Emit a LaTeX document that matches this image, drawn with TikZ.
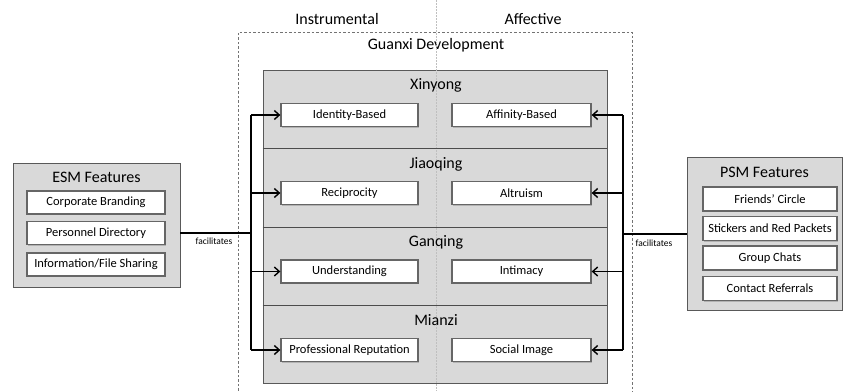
\documentclass[tikz,border=0pt]{standalone}
\usepackage{fontspec}
\setmainfont{Carlito}
\usetikzlibrary{arrows.meta,shadows}

\begin{document}
\begin{tikzpicture}[x=1pt, y=-1pt,
  featbox/.style={draw=black!65, fill=black!15, line width=0.8pt,
    drop shadow={shadow xshift=1pt, shadow yshift=-1pt, fill=black!35}},
  itembox/.style={draw=black!60, fill=white, line width=1.3pt, inner sep=0pt,
    minimum height=23pt, font=\fontsize{12.5}{14}\selectfont,
    drop shadow={shadow xshift=1pt, shadow yshift=-1pt, fill=black!45}},
  hdr/.style={font=\fontsize{16}{18}\selectfont},
  small/.style={font=\fontsize{9.5}{11}\selectfont},
  link/.style={line width=1.4pt, -{Straight Barb[length=5pt,width=9pt]}}]
  \useasboundingbox (0,0) rectangle (843,391);

  % columns
  \node[hdr] (instr) at (337,19) {Instrumental};
  \node[hdr] (affect) at (533,19) {Affective};
  \draw[black!55, line width=0.7pt, dash pattern=on 2.5pt off 2pt]
    (238,395) -- (238,32) -- (632,32) -- (632,395);
  \node[hdr] (dev) at (436,45) {Guanxi Development};

  % guanxi box
  \node[featbox, minimum width=344pt, minimum height=313pt] (gx) at (435,226.5) {};
  \draw[black!25, line width=0.6pt, dash pattern=on 1.5pt off 1.5pt] (436,0) -- (436,391);
  \draw[black!70, line width=0.9pt] (gx.west |- 0,148) -- (gx.east |- 0,148);
  \draw[black!70, line width=0.9pt] (gx.west |- 0,227) -- (gx.east |- 0,227);
  \draw[black!70, line width=0.9pt] (gx.west |- 0,305) -- (gx.east |- 0,305);
  \node[hdr] (xin) at (436,85) {Xinyong};
  \node[hdr] (jiao) at (436,164) {Jiaoqing};
  \node[hdr] (gan) at (436,242) {Ganqing};
  \node[hdr] (mian) at (436,320) {Mianzi};

  \node[itembox, minimum width=137pt] (idb) at (349.5,115) {Identity-Based};
  \node[itembox, minimum width=139pt] (afb) at (521.5,115) {Affinity-Based};
  \node[itembox, minimum width=137pt] (rec) at (349.5,193) {Reciprocity};
  \node[itembox, minimum width=139pt] (alt) at (521.5,193) {Altruism};
  \node[itembox, minimum width=137pt] (und) at (349.5,271.5) {Understanding};
  \node[itembox, minimum width=139pt] (inti) at (521.5,271.5) {Intimacy};
  \node[itembox, minimum width=137pt] (prof) at (349.5,350) {Professional Reputation};
  \node[itembox, minimum width=139pt] (soc) at (521.5,350) {Social Image};

  % ESM side
  \node[featbox, minimum width=167pt, minimum height=124pt] (esm) at (96.5,225) {};
  \node[hdr] (esmt) at (96.5,177) {ESM Features};
  \node[itembox, minimum width=138pt] (brand) at (96,202.5) {Corporate Branding};
  \node[itembox, minimum width=138pt] (pers) at (96,233) {Personnel Directory};
  \node[itembox, minimum width=138pt] (share) at (96,264.5) {Information/File Sharing};

  % PSM side
  \node[featbox, minimum width=155pt, minimum height=153pt] (psm) at (764.5,233.5) {};
  \node[hdr] (psmt) at (764.5,172) {PSM Features};
  \node[itembox, minimum width=134pt, minimum height=24pt] (circ) at (770,199) {Friends’ Circle};
  \node[itembox, minimum width=134pt, minimum height=24pt] (stick) at (770,228.5) {Stickers and Red Packets};
  \node[itembox, minimum width=134pt, minimum height=24pt] (chat) at (770,258) {Group Chats};
  \node[itembox, minimum width=134pt, minimum height=24pt] (refer) at (770,288.5) {Contact Referrals};

  % connectors
  \coordinate (lbus) at (251,233);
  \coordinate (rbus) at (623,234);
  \draw[line width=1.2pt] (esm.east |- lbus) -- (lbus);
  \draw[line width=1.2pt] (psm.west |- rbus) -- (rbus);
  \node[small] (facl) at (214,241) {facilitates};
  \node[small] (facr) at (654,243) {facilitates};
  \draw[line width=1.4pt] (lbus |- idb) -- (lbus |- prof);
  \draw[line width=1.4pt] (rbus |- afb) -- (rbus |- soc);
  \draw[link] (lbus |- idb) -- (idb.west);
  \draw[link] (lbus |- rec) -- (rec.west);
  \draw[link] (lbus |- und) -- (und.west);
  \draw[link] (lbus |- prof) -- (prof.west);
  \draw[link] (rbus |- afb) -- (afb.east);
  \draw[link] (rbus |- alt) -- (alt.east);
  \draw[link] (rbus |- inti) -- (inti.east);
  \draw[link] (rbus |- soc) -- (soc.east);
\end{tikzpicture}
\end{document}
